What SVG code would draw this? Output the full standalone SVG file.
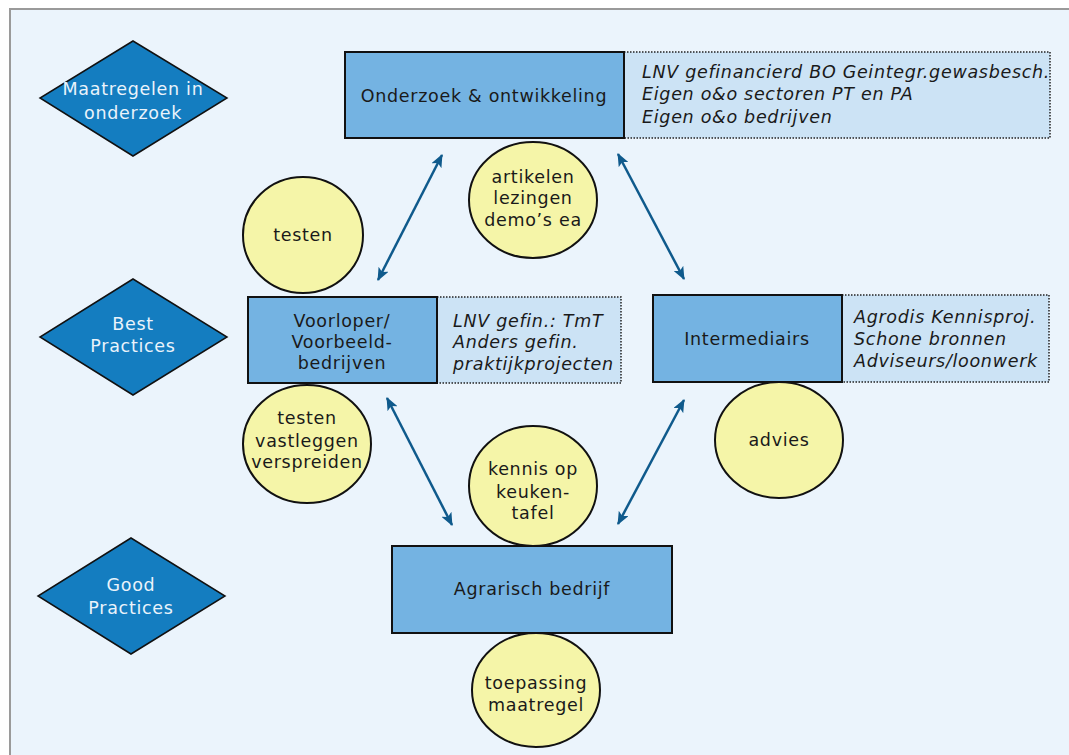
<svg xmlns="http://www.w3.org/2000/svg" width="1069" height="755" viewBox="0 0 1069 755">
<style>
  .bg{fill:#EBF4FC;stroke:#9a9a9a;stroke-width:2}
  .dia{fill:#147DC0;stroke:#111;stroke-width:1.5}
  .box{fill:#74B3E2;stroke:#111;stroke-width:2}
  .note{fill:#CCE3F5;stroke:#222;stroke-width:1.5;stroke-dasharray:1.5 1.5}
  .ell{fill:#F5F5A8;stroke:#111;stroke-width:2}
  text{font-family:"DejaVu Sans",Verdana,sans-serif;font-size:17.5px;letter-spacing:0.7px;fill:#1a1a1a}
  .c{text-anchor:middle}
  .w{fill:#EAF3FB}
  .i{font-style:italic}
  .arr{stroke:#0F5A8C;stroke-width:2.5;fill:none;marker-start:url(#ah);marker-end:url(#ah)}
</style>
<defs>
  <marker id="ah" viewBox="0 0 13 11" refX="12" refY="5.5" markerWidth="13" markerHeight="11" markerUnits="userSpaceOnUse" orient="auto-start-reverse">
    <path d="M0,0 L13,5.5 L0,11 L3,5.5 Z" fill="#0F5A8C"/>
  </marker>
</defs>
<rect class="bg" x="10" y="9" width="1070" height="760"/>

<g id="diamond-maatregelen">
  <polygon class="dia" points="133,41 227,98 133,156 40,98"/>
  <text class="c w" x="133" y="95">Maatregelen in</text>
  <text class="c w" x="133" y="119">onderzoek</text>
</g>
<g id="diamond-best">
  <polygon class="dia" points="133,279 227,337 133,395 40,337"/>
  <text class="c w" x="133" y="330">Best</text>
  <text class="c w" x="133" y="352">Practices</text>
</g>
<g id="diamond-good">
  <polygon class="dia" points="131,538 225,596 131,654 38,596"/>
  <text class="c w" x="131" y="591">Good</text>
  <text class="c w" x="131" y="614">Practices</text>
</g>

<g id="node-onderzoek">
  <rect class="note" x="624" y="52" width="426" height="86"/>
  <rect class="box" x="345" y="52" width="279" height="86"/>
  <text class="c" x="484" y="102">Onderzoek &amp; ontwikkeling</text>
  <text class="i" x="642" y="78">LNV gefinancierd BO Geintegr.gewasbesch.</text>
  <text class="i" x="642" y="100">Eigen o&amp;o sectoren PT en PA</text>
  <text class="i" x="642" y="123">Eigen o&amp;o bedrijven</text>
</g>

<g id="node-voorloper">
  <rect class="note" x="437" y="297" width="184" height="86"/>
  <rect class="box" x="248" y="297" width="189" height="86"/>
  <text class="c" x="342" y="327">Voorloper/</text>
  <text class="c" x="342" y="348">Voorbeeld-</text>
  <text class="c" x="342" y="369">bedrijven</text>
  <text class="i" x="453" y="327">LNV gefin.: TmT</text>
  <text class="i" x="453" y="348">Anders gefin.</text>
  <text class="i" x="453" y="370">praktijkprojecten</text>
</g>

<g id="node-intermediairs">
  <rect class="note" x="842" y="295" width="207" height="87"/>
  <rect class="box" x="653" y="295" width="189" height="87"/>
  <text class="c" x="747" y="345">Intermediairs</text>
  <text class="i" x="854" y="323">Agrodis Kennisproj.</text>
  <text class="i" x="854" y="345">Schone bronnen</text>
  <text class="i" x="854" y="367">Adviseurs/loonwerk</text>
</g>

<g id="node-agrarisch">
  <rect class="box" x="392" y="546" width="280" height="87"/>
  <text class="c" x="532" y="595">Agrarisch bedrijf</text>
</g>

<g id="ell-testen">
  <ellipse class="ell" cx="303" cy="235" rx="60" ry="58"/>
  <text class="c" x="303" y="241">testen</text>
</g>
<g id="ell-artikelen">
  <ellipse class="ell" cx="533" cy="200" rx="64" ry="58"/>
  <text class="c" x="533" y="183">artikelen</text>
  <text class="c" x="533" y="204">lezingen</text>
  <text class="c" x="533" y="226">demo’s ea</text>
</g>
<g id="ell-vastleggen">
  <ellipse class="ell" cx="307" cy="444" rx="64" ry="59"/>
  <text class="c" x="307" y="424">testen</text>
  <text class="c" x="307" y="447">vastleggen</text>
  <text class="c" x="307" y="468">verspreiden</text>
</g>
<g id="ell-kennis">
  <ellipse class="ell" cx="533" cy="486" rx="64" ry="60"/>
  <text class="c" x="533" y="475">kennis op</text>
  <text class="c" x="533" y="498">keuken-</text>
  <text class="c" x="533" y="519">tafel</text>
</g>
<g id="ell-advies">
  <ellipse class="ell" cx="779" cy="440" rx="64" ry="58"/>
  <text class="c" x="779" y="446">advies</text>
</g>
<g id="ell-toepassing">
  <ellipse class="ell" cx="536" cy="690" rx="64" ry="57"/>
  <text class="c" x="536" y="689">toepassing</text>
  <text class="c" x="536" y="711">maatregel</text>
</g>

<g id="connectors">
  <line class="arr" x1="378" y1="280" x2="442" y2="155"/>
  <line class="arr" x1="684" y1="279" x2="618" y2="154"/>
  <line class="arr" x1="452" y1="525" x2="387" y2="398"/>
  <line class="arr" x1="618" y1="524" x2="684" y2="400"/>
</g>
</svg>
